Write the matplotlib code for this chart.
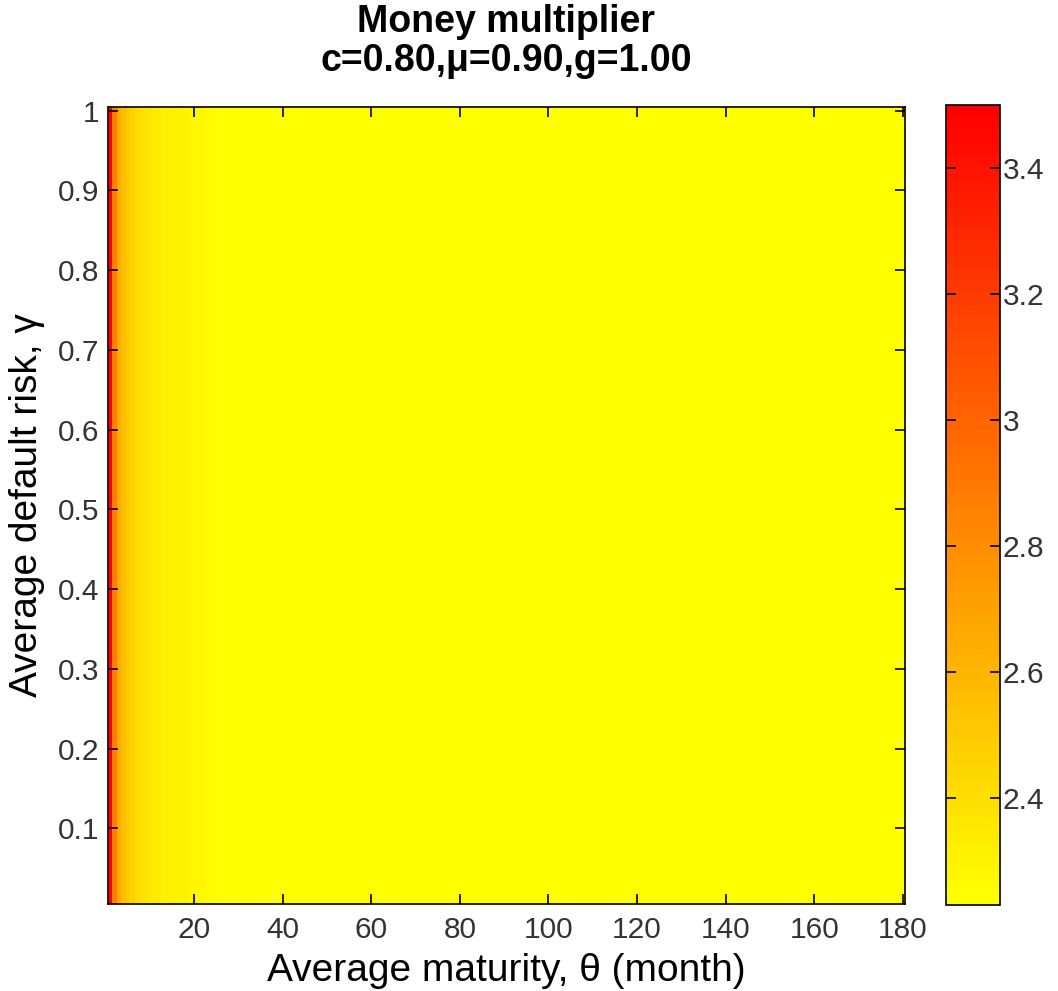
import numpy as np
import matplotlib
matplotlib.use("Agg")
import matplotlib.pyplot as plt
from matplotlib.colors import ListedColormap
from matplotlib.ticker import FormatStrFormatter

# Grid: maturity theta (months) and default risk gamma
theta = np.arange(1, 181)
gamma = np.round(np.arange(1, 101) * 0.01, 2)

# Money multiplier along maturity (same for every default-risk row)
multiplier_by_theta = [
    3.50, 2.87, 2.66, 2.55, 2.49, 2.45, 2.42, 2.39, 2.37, 2.35,
    2.34, 2.33, 2.32, 2.31, 2.30, 2.30, 2.29, 2.29, 2.28, 2.28,
    2.27, 2.27, 2.26, 2.26, 2.25, 2.24, 2.24, 2.24, 2.24, 2.24,
    2.24, 2.24, 2.24, 2.24, 2.24, 2.24, 2.24, 2.24, 2.24, 2.24,
    2.24, 2.24, 2.24, 2.24, 2.24, 2.24, 2.24, 2.24, 2.24, 2.24,
    2.24, 2.24, 2.24, 2.24, 2.24, 2.24, 2.24, 2.24, 2.24, 2.24,
    2.24, 2.24, 2.24, 2.24, 2.24, 2.24, 2.24, 2.24, 2.24, 2.24,
    2.24, 2.24, 2.24, 2.24, 2.24, 2.24, 2.24, 2.24, 2.24, 2.24,
    2.23, 2.23, 2.23, 2.23, 2.23, 2.23, 2.23, 2.23, 2.23, 2.23,
    2.23, 2.23, 2.23, 2.23, 2.23, 2.23, 2.23, 2.23, 2.23, 2.23,
    2.23, 2.23, 2.23, 2.23, 2.23, 2.23, 2.23, 2.23, 2.23, 2.23,
    2.23, 2.23, 2.23, 2.23, 2.23, 2.23, 2.23, 2.23, 2.23, 2.23,
    2.23, 2.23, 2.23, 2.23, 2.23, 2.23, 2.23, 2.23, 2.23, 2.23,
    2.23, 2.23, 2.23, 2.23, 2.23, 2.23, 2.23, 2.23, 2.23, 2.23,
    2.23, 2.23, 2.23, 2.23, 2.23, 2.23, 2.23, 2.23, 2.23, 2.23,
    2.23, 2.23, 2.23, 2.23, 2.23, 2.23, 2.23, 2.23, 2.23, 2.23,
    2.23, 2.23, 2.23, 2.23, 2.23, 2.23, 2.23, 2.23, 2.23, 2.23,
    2.23, 2.23, 2.23, 2.23, 2.23, 2.23, 2.23, 2.23, 2.23, 2.23,
]

x_ticks = [20, 40, 60, 80, 100, 120, 140, 160, 180]
y_ticks = [0.1, 0.2, 0.3, 0.4, 0.5, 0.6, 0.7, 0.8, 0.9, 1.0]
cbar_ticks = [2.4, 2.6, 2.8, 3.0, 3.2, 3.4]

Z = np.tile(np.asarray(multiplier_by_theta), (len(gamma), 1))

plt.rcParams["font.family"] = ["Liberation Sans", "DejaVu Sans"]

# 64-level yellow-to-red map
base = plt.get_cmap("autumn_r")
cmap = ListedColormap(base(np.linspace(0, 1, 64)))

fig = plt.figure(figsize=(10.58, 9.91), dpi=100)
ax = fig.add_axes([0.1018, 0.0878, 0.7536, 0.8045])
dx = (theta[1] - theta[0]) / 2
dy = (gamma[1] - gamma[0]) / 2
im = ax.imshow(Z, origin="lower", aspect="auto", cmap=cmap,
               interpolation="nearest",
               extent=[theta[0] - dx, theta[-1] + dx, gamma[0] - dy, gamma[-1] + dy],
               vmin=Z.min(), vmax=Z.max())

ax.set_xticks(x_ticks)
ax.set_yticks(y_ticks)
ax.yaxis.set_major_formatter(FormatStrFormatter("%g"))
ax.tick_params(direction="in", length=7, width=1.2, labelsize=21.5,
               top=True, right=True, colors="black", labelcolor="#333333")
ax.tick_params(axis="x", pad=9)
ax.tick_params(axis="y", pad=6)
for s in ax.spines.values():
    s.set_linewidth(1.2)

ax.set_xlabel("Average maturity, θ (month)", fontsize=28, labelpad=6)
ax.set_ylabel("Average default risk, γ", fontsize=28, labelpad=9)
ax.set_title("Money multiplier\nc=0.80,μ=0.90,g=1.00", fontsize=27,
             fontweight="bold", pad=26, linespacing=1.1)

cax = fig.add_axes([0.8941, 0.0868, 0.0510, 0.8076])
cb = fig.colorbar(im, cax=cax, ticks=cbar_ticks)
cb.ax.yaxis.set_major_formatter(FormatStrFormatter("%g"))
cb.ax.tick_params(direction="in", length=7, width=1.2, labelsize=21.5,
                  left=True, right=True, labelcolor="#333333", pad=2)
cb.outline.set_linewidth(1.2)

fig.savefig("out.png", dpi=100)
